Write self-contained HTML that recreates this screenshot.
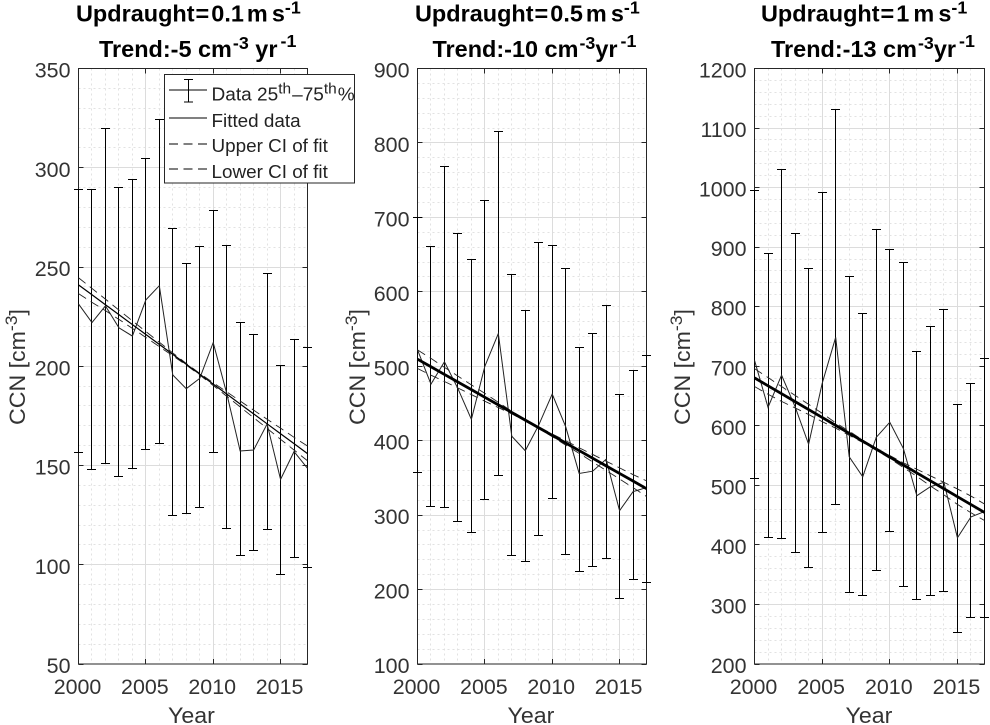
<!DOCTYPE html>
<html lang="en">
<head>
<meta charset="utf-8">
<title>CCN trends by updraught</title>
<style>
html,body{margin:0;padding:0;background:#fff;width:990px;height:725px;overflow:hidden}
svg{display:block;font-family:"Liberation Sans",Arial,sans-serif}
.tick{font-size:21px;fill:#333}
.lab{font-size:22.5px;fill:#333}
.ttl{font-size:23px;font-weight:bold;fill:#000}
.sup{font-size:17.5px;font-weight:bold;fill:#000}
.lsup{font-size:17px;fill:#333}
.legsup{font-size:15px;fill:#222}
.leg{font-size:18.5px;fill:#222}
</style>
</head>
<body>
<svg id="chart" xmlns="http://www.w3.org/2000/svg" width="990" height="725" viewBox="0 0 990 725">
  <rect width="990" height="725" fill="#fff"/>
  <g id="panels"></g>

  <g>
    <text class="ttl" transform="translate(76,21.5) scale(1.02,1)">Updraught<tspan dx="1">=</tspan><tspan dx="2">0.1</tspan><tspan dx="3">m</tspan><tspan dx="4">s</tspan><tspan class="sup" dy="-8">-1</tspan></text>
    <text class="ttl" transform="translate(99,57) scale(1.02,1)">Trend:-5 cm<tspan class="sup" dy="-8" dx="1">-3</tspan><tspan dy="8" dx="0"> yr</tspan><tspan class="sup" dy="-10" dx="3">-1</tspan></text>
  </g>
  <g>
    <text class="ttl" transform="translate(415,21.5) scale(1.02,1)">Updraught<tspan dx="1">=</tspan><tspan dx="2">0.5</tspan><tspan dx="3">m</tspan><tspan dx="4">s</tspan><tspan class="sup" dy="-8">-1</tspan></text>
    <text class="ttl" transform="translate(432.5,57) scale(1.02,1)">Trend:-10 cm<tspan class="sup" dy="-8" dx="1">-3</tspan><tspan dy="8" dx="0">yr</tspan><tspan class="sup" dy="-10" dx="3">-1</tspan></text>
  </g>
  <g>
    <text class="ttl" transform="translate(761,21.5) scale(1.02,1)">Updraught<tspan dx="1">=</tspan><tspan dx="2">1</tspan><tspan dx="4">m</tspan><tspan dx="4">s</tspan><tspan class="sup" dy="-8">-1</tspan></text>
    <text class="ttl" transform="translate(771,57) scale(1.02,1)">Trend:-13 cm<tspan class="sup" dy="-8" dx="1">-3</tspan><tspan dy="8" dx="0">yr</tspan><tspan class="sup" dy="-10" dx="3">-1</tspan></text>
  </g>

  <text class="lab" transform="translate(25,425) rotate(-90) scale(1.03,1)">CCN [cm<tspan class="lsup" dy="-8">-3</tspan><tspan dy="8">]</tspan></text>
  <text class="lab" transform="translate(365,425) rotate(-90) scale(1.03,1)">CCN [cm<tspan class="lsup" dy="-8">-3</tspan><tspan dy="8">]</tspan></text>
  <text class="lab" transform="translate(690,425) rotate(-90) scale(1.03,1)">CCN [cm<tspan class="lsup" dy="-8">-3</tspan><tspan dy="8">]</tspan></text>
  <text class="lab" transform="translate(168,723) scale(1.03,1)">Year</text>
  <text class="lab" transform="translate(507.5,723) scale(1.03,1)">Year</text>
  <text class="lab" transform="translate(845.5,723) scale(1.03,1)">Year</text>

  <g>
    <rect x="164.5" y="74.5" width="190" height="108.5" fill="#fff" stroke="#262626" stroke-width="1"/>
    <g>
      <line x1="169" y1="90" x2="207" y2="90" stroke="#000" stroke-width="1"/>
      <line x1="188.5" y1="79.5" x2="188.5" y2="102" stroke="#000" stroke-width="1"/>
      <line x1="184" y1="79.5" x2="193" y2="79.5" stroke="#000" stroke-width="1"/>
      <line x1="184" y1="102" x2="193" y2="102" stroke="#000" stroke-width="1"/>
      <text class="leg" transform="translate(211.5,100.5) scale(1.03,1)">Data 25<tspan class="legsup" dy="-7">th</tspan><tspan dy="7" dx="1">–75</tspan><tspan class="legsup" dy="-7">th</tspan><tspan dy="7" dx="1">%</tspan></text>
    </g>
    <g>
      <line x1="169" y1="118" x2="207" y2="118" stroke="#000" stroke-width="1"/>
      <text class="leg" transform="translate(211.5,127) scale(1.02,1)">Fitted data</text>
    </g>
    <g>
      <line x1="169" y1="144" x2="207" y2="144" stroke="#000" stroke-width="1" stroke-dasharray="9,5.5"/>
      <text class="leg" transform="translate(211.5,152) scale(1.02,1)">Upper CI of fit</text>
    </g>
    <g>
      <line x1="169" y1="169" x2="207" y2="169" stroke="#000" stroke-width="1" stroke-dasharray="9,5.5"/>
      <text class="leg" transform="translate(211.5,178) scale(1.02,1)">Lower CI of fit</text>
    </g>
  </g>
</svg>
<script>
const years = [2000,2001,2002,2003,2004,2005,2006,2007,2008,2009,2010,2011,2012,2013,2014,2015,2016,2017];
const xTickLabels = [2000,2005,2010,2015];

const p1Ticks = [50,100,150,200,250,300,350];
const p1Mean = [231.4,222,230.4,219.4,215.2,233.4,240.6,195.6,188.7,193.9,211.9,186.4,157.3,157.8,170.9,143,157,148.6];
const p1High = [289,289,320,290,294,304.6,324.4,269.5,252,260.4,278.6,261,222,216,246.8,200.5,213.6,209.5];
const p1Low = [156.8,148,151,144.4,148.6,158.2,161.2,125,126,129,156.6,118.4,104.8,107.3,117.8,95.3,103.8,98.7];
const p1Fit = [241,236,231,226,221,216,211,206,201,196,191,186,181,176,171,166,161,156];
const p1Upper = [244.6,239.2,233.8,228.3,222.9,217.5,212.1,206.7,201.4,196.4,191.7,187.1,182.5,177.9,173.3,168.8,164.2,159.8];
const p1Lower = [236.6,232.2,228,223.6,219.1,214.5,209.9,205.3,200.6,195.6,190.3,184.9,179.5,174.1,168.7,163.2,157.8,152.4];

const p2Ticks = [100,200,300,400,500,600,700,800,900];
const p2Mean = [522,476,506,470,428.7,500,544,406,386.5,421,462.7,418.8,356,359,375,306,331.5,337];
const p2High = [700,661,769,678.6,644,723,815.6,623.5,575,666.5,662.4,631.5,525,544,581,462,494.5,514];
const p2Low = [357.5,312,310.5,291.7,277,321,353.5,246,238,273,322.6,247.4,224.5,231,242,188,213.8,209.8];
const p2Fit = [509.5,499.3,489,478.8,468.6,458.3,448.1,437.9,427.6,417.4,407.2,396.9,386.7,376.5,366.2,356,345.8,335.5];
const p2Upper = [522,510.5,498.5,486.8,475,463.5,451.5,439.5,428.5,418.5,409,400,390.5,381.5,372.5,363.5,354.5,346];
const p2Lower = [497,488,479.5,470.8,462,453,444.5,436,426.5,416.5,405.5,394,383,371.5,360,348.5,337,325];

const p3Ticks = [200,300,400,500,600,700,800,900,1000,1100,1200];
const p3Mean = [710,631,685,632,569,671,748.6,548,514.5,580.6,605.9,562,482.6,497.7,505,412,447,456];
const p3High = [994.8,889.7,1030.7,923,864.5,992,1131.5,851,788.9,930,896.7,874.5,725,767,795.6,636,671,713];
const p3Low = [510.7,412.7,411,387.6,362.4,421,468,320.4,315.4,357.3,422.8,330.5,308.6,315.4,322,253,278.4,278.4];
const p3Fit = [680.5,667.2,653.9,640.6,627.3,614,600.7,587.4,574.1,560.8,547.5,534.2,520.9,507.6,494.3,481,467.7,454.5];
const p3Upper = [696,681,666,651,636,621,605,591,576,562,550,538,527,516,505,494,482,468.7];
const p3Lower = [666,653,641,630,619,607,596,584,572,559,545,530,515,499,484,468,454,441];

const NS = 'http://www.w3.org/2000/svg';
const root = document.getElementById('panels');

function shape(parent, tag, props) {
  const el = document.createElementNS(NS, tag);
  for (const k in props) el.setAttribute(k, props[k]);
  parent.appendChild(el);
  return el;
}

function snap(v) {
  return Math.floor(v) + 0.5;
}

function polyPoints(vals, sx, sy) {
  return vals.map(function (v, i) { return sx(years[i]).toFixed(2) + ',' + sy(v).toFixed(2); }).join(' ');
}

function drawPanel(id, left, right, top, bottom, ticks, minorStep, mean, high, low, fit, upper, lower, fitWidth) {
  const x0 = years[0], x1 = years[years.length - 1];
  const y0 = ticks[0], y1 = ticks[ticks.length - 1];
  const sx = function (v) { return left + (v - x0) / (x1 - x0) * (right - left); };
  const sy = function (v) { return bottom - (v - y0) / (y1 - y0) * (bottom - top); };

  const g = shape(root, 'g', {});
  
  

  const grid = shape(g, 'g', {});
  
  

  years.forEach(function (yr) {
    if (xTickLabels.indexOf(yr) >= 0 || yr === x1) return;
    const m = shape(grid, 'line', {x1: snap(sx(yr)), x2: snap(sx(yr)), y1: top, y2: bottom, stroke: '#e2e2e2', 'stroke-width': 1, 'stroke-dasharray': '2,3'});
    
    
  });
  for (let v = y0 + minorStep; v < y1; v += minorStep) {
    if (ticks.indexOf(v) >= 0) continue;
    const m = shape(grid, 'line', {x1: left, x2: right, y1: snap(sy(v)), y2: snap(sy(v)), stroke: '#e2e2e2', 'stroke-width': 1, 'stroke-dasharray': '2,3'});
    
    
  }
  xTickLabels.forEach(function (yr) {
    if (yr === x0) return;
    const m = shape(grid, 'line', {x1: snap(sx(yr)), x2: snap(sx(yr)), y1: top, y2: bottom, stroke: '#dcdcdc', 'stroke-width': 1});
    
    
  });
  ticks.forEach(function (v) {
    if (v === y0 || v === y1) return;
    const m = shape(grid, 'line', {x1: left, x2: right, y1: snap(sy(v)), y2: snap(sy(v)), stroke: '#dcdcdc', 'stroke-width': 1});
    
    
  });

  const frame = shape(g, 'rect', {x: left, y: top, width: right - left, height: bottom - top, fill: 'none', stroke: '#262626', 'stroke-width': 1});
  
  

  xTickLabels.forEach(function (yr) {
    const t1 = shape(g, 'line', {x1: snap(sx(yr)), x2: snap(sx(yr)), y1: bottom, y2: bottom - 5, stroke: '#262626', 'stroke-width': 1});
    
    
    const t2 = shape(g, 'line', {x1: snap(sx(yr)), x2: snap(sx(yr)), y1: top, y2: top + 5, stroke: '#262626', 'stroke-width': 1});
    
    
    const lbl = shape(g, 'text', {'class': 'tick', 'text-anchor': 'middle', transform: 'translate(' + (sx(yr) - 1) + ',' + (bottom + 30) + ') scale(1.02,1)'});
    lbl.textContent = yr;
    
    
  });
  ticks.forEach(function (v) {
    const t1 = shape(g, 'line', {x1: left, x2: left + 5, y1: snap(sy(v)), y2: snap(sy(v)), stroke: '#262626', 'stroke-width': 1});
    
    
    const t2 = shape(g, 'line', {x1: right, x2: right - 5, y1: snap(sy(v)), y2: snap(sy(v)), stroke: '#262626', 'stroke-width': 1});
    
    
    const lbl = shape(g, 'text', {'class': 'tick', 'text-anchor': 'end', transform: 'translate(' + (left - 8) + ',' + (sy(v) + 9) + ') scale(1.02,1)'});
    lbl.textContent = v;
    
    
  });

  const bars = shape(g, 'g', {stroke: '#000', 'stroke-width': 1, fill: 'none'});
  
  
  years.forEach(function (yr, i) {
    const sxv = snap(sx(yr));
    const stem = shape(bars, 'line', {x1: sxv, x2: sxv, y1: snap(sy(high[i])), y2: snap(sy(low[i]))});
    
    
    const capA = shape(bars, 'line', {x1: sxv - 4.5, x2: sxv + 4.5, y1: snap(sy(high[i])), y2: snap(sy(high[i]))});
    
    
    const capB = shape(bars, 'line', {x1: sxv - 4.5, x2: sxv + 4.5, y1: snap(sy(low[i])), y2: snap(sy(low[i]))});
    
    
  });

  const meanLine = shape(g, 'polyline', {points: polyPoints(mean, sx, sy), fill: 'none', stroke: '#222', 'stroke-width': 1});
  
  

  const upLine = shape(g, 'polyline', {points: polyPoints(upper, sx, sy), fill: 'none', stroke: '#222', 'stroke-width': 0.9, 'stroke-dasharray': '9,5.5'});
  
  

  const lowLine = shape(g, 'polyline', {points: polyPoints(lower, sx, sy), fill: 'none', stroke: '#222', 'stroke-width': 0.9, 'stroke-dasharray': '9,5.5'});
  
  

  const fitLine = shape(g, 'polyline', {points: polyPoints(fit, sx, sy), fill: 'none', stroke: '#000', 'stroke-width': fitWidth});
  
  
}

drawPanel('panel-1', 78.5, 307.5, 68.5, 664, p1Ticks, 10, p1Mean, p1High, p1Low, p1Fit, p1Upper, p1Lower, 1.2);
drawPanel('panel-2', 417.5, 646.5, 68.5, 664, p2Ticks, 20, p2Mean, p2High, p2Low, p2Fit, p2Upper, p2Lower, 2.8);
drawPanel('panel-3', 754.5, 984.5, 68.5, 664, p3Ticks, 20, p3Mean, p3High, p3Low, p3Fit, p3Upper, p3Lower, 2.8);
</script>
</body>
</html>
